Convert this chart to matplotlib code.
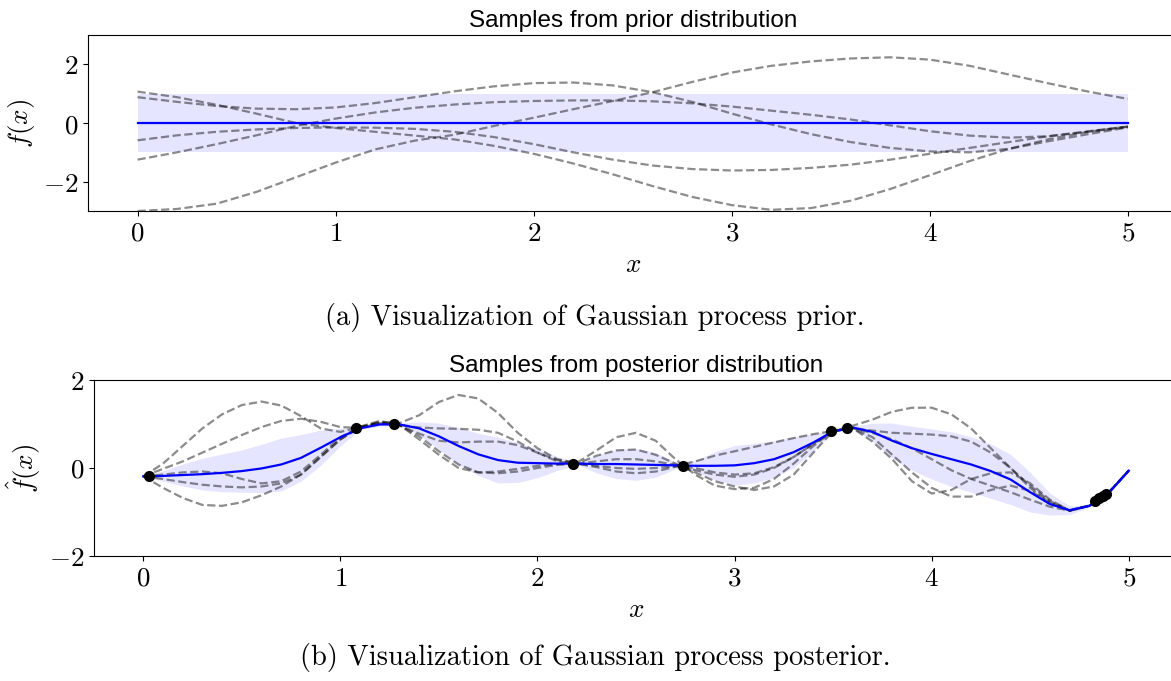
import numpy as np
import matplotlib
matplotlib.use("Agg")
import matplotlib.pyplot as plt

plt.rcParams['mathtext.fontset'] = 'cm'

# ---- prior panel data ----
prior_x = np.linspace(0, 5, 26)
prior_band_x = [0.0, 5.0]
prior_mean = [0.0, 0.0]
prior_std = [1.0, 1.0]
prior_samples = [
    [1.07, 0.88, 0.62, 0.32, 0.0, -0.17, -0.3, -0.43, -0.56, -0.78, -1.05, -1.38, -1.75,
     -2.15, -2.52, -2.8, -2.96, -2.9, -2.65, -2.25, -1.78, -1.3, -0.88, -0.55, -0.3, -0.12],
    [0.88, 0.72, 0.58, 0.49, 0.47, 0.53, 0.68, 0.88, 1.08, 1.25, 1.36, 1.38, 1.28,
     1.05, 0.72, 0.32, -0.05, -0.38, -0.65, -0.85, -0.97, -1.0, -0.88, -0.62, -0.38, -0.15],
    [-0.59, -0.42, -0.3, -0.22, -0.17, -0.15, -0.16, -0.2, -0.3, -0.48, -0.72, -1.0, -1.25,
     -1.45, -1.57, -1.62, -1.6, -1.53, -1.42, -1.25, -1.05, -0.85, -0.65, -0.45, -0.28, -0.12],
    [-1.25, -1.0, -0.72, -0.42, -0.1, 0.15, 0.36, 0.52, 0.63, 0.71, 0.75, 0.77, 0.77,
     0.74, 0.67, 0.56, 0.42, 0.28, 0.12, -0.08, -0.28, -0.43, -0.5, -0.45, -0.3, -0.13],
    [-3.0, -2.93, -2.75, -2.35, -1.85, -1.35, -0.9, -0.6, -0.4, -0.1, 0.18, 0.47, 0.75,
     1.05, 1.4, 1.72, 1.95, 2.1, 2.2, 2.24, 2.16, 1.95, 1.65, 1.35, 1.07, 0.82],
]

# ---- posterior panel data ----
post_x = np.linspace(0, 5, 51)
post_mean = [-0.19, -0.18, -0.16, -0.14, -0.11, -0.07, -0.01, 0.08, 0.23, 0.46,
             0.7, 0.9, 0.99, 0.99, 0.9, 0.72, 0.5, 0.31, 0.18, 0.12,
             0.11, 0.1, 0.1, 0.09, 0.09, 0.08, 0.07, 0.06, 0.05, 0.05,
             0.06, 0.11, 0.2, 0.36, 0.58, 0.83, 0.92, 0.82, 0.62, 0.45,
             0.32, 0.2, 0.08, -0.07, -0.26, -0.55, -0.82, -0.96, -0.86, -0.56, -0.06]
post_std = [0.0, 0.12, 0.25, 0.36, 0.43, 0.48, 0.55, 0.6, 0.53, 0.4,
            0.2, 0.02, 0.04, 0.03, 0.15, 0.3, 0.42, 0.48, 0.52, 0.45,
            0.33, 0.16, 0.02, 0.2, 0.33, 0.36, 0.28, 0.08, 0.12, 0.32,
            0.45, 0.45, 0.42, 0.35, 0.2, 0.02, 0.03, 0.2, 0.4, 0.5,
            0.57, 0.62, 0.63, 0.62, 0.57, 0.45, 0.25, 0.1, 0.03, 0.01, 0.02]
post_samples = [
    [-0.19, 0.1, 0.5, 0.9, 1.22, 1.43, 1.51, 1.42, 1.18, 0.9,
     0.82, 0.93, 1.05, 1.02, 1.2, 1.5, 1.66, 1.58, 1.25, 0.8,
     0.45, 0.2, 0.12, 0.4, 0.7, 0.8, 0.62, 0.2, -0.15, -0.4,
     -0.48, -0.45, -0.25, 0.1, 0.5, 0.84, 0.96, 1.1, 1.28, 1.37,
     1.37, 1.22, 0.9, 0.45, 0.0, -0.45, -0.8, -0.97, -0.86, -0.55, -0.06],
    [-0.19, -0.02, 0.15, 0.35, 0.55, 0.75, 0.93, 1.07, 1.12, 1.05,
     0.93, 0.91, 1.02, 0.98, 0.92, 0.9, 0.89, 0.87, 0.8, 0.6,
     0.35, 0.15, 0.1, 0.28, 0.4, 0.42, 0.3, 0.1, -0.1, -0.3,
     -0.42, -0.5, -0.42, -0.15, 0.35, 0.84, 0.9, 0.85, 0.8, 0.78,
     0.76, 0.72, 0.6, 0.35, 0.0, -0.4, -0.75, -0.96, -0.85, -0.55, -0.06],
    [-0.19, -0.15, -0.1, -0.08, -0.12, -0.25, -0.35, -0.3, -0.08, 0.3,
     0.7, 0.93, 1.02, 0.97, 0.78, 0.62, 0.58, 0.6, 0.6, 0.52,
     0.35, 0.18, 0.1, 0.15, 0.2, 0.2, 0.15, 0.07, -0.05, -0.15,
     -0.2, -0.15, 0.0, 0.25, 0.55, 0.85, 0.9, 0.6, 0.2, -0.3,
     -0.58, -0.5, -0.25, -0.12, -0.1, -0.35, -0.72, -0.97, -0.86, -0.55, -0.06],
    [-0.19, -0.45, -0.68, -0.84, -0.86, -0.78, -0.62, -0.42, -0.15, 0.25,
     0.65, 0.94, 1.07, 0.98, 0.65, 0.3, 0.0, -0.1, -0.08, -0.02,
     0.05, 0.09, 0.1, 0.05, 0.0, -0.02, 0.0, 0.04, 0.15, 0.28,
     0.38, 0.48, 0.58, 0.68, 0.77, 0.84, 0.9, 0.7, 0.3, -0.1,
     -0.45, -0.65, -0.65, -0.5, -0.4, -0.52, -0.78, -0.97, -0.86, -0.55, -0.06],
    [-0.19, -0.25, -0.32, -0.38, -0.42, -0.44, -0.42, -0.35, -0.15, 0.25,
     0.65, 0.92, 1.03, 0.97, 0.72, 0.38, 0.08, -0.1, -0.12, -0.08,
     0.0, 0.07, 0.1, 0.02, -0.08, -0.12, -0.08, 0.03, 0.0, -0.1,
     -0.15, -0.12, 0.02, 0.25, 0.55, 0.84, 0.9, 0.8, 0.65, 0.45,
     0.2, -0.05, -0.25, -0.4, -0.55, -0.72, -0.88, -0.97, -0.86, -0.55, -0.06],
]
obs_x = [0.03, 1.08, 1.27, 2.18, 2.74, 3.49, 3.57, 4.83, 4.85, 4.87, 4.885]
obs_y = [-0.19, 0.9, 0.99, 0.1, 0.05, 0.83, 0.91, -0.74, -0.69, -0.64, -0.59]

xticks = [0, 1, 2, 3, 4, 5]
prior_yticks = [-2, 0, 2]
post_yticks = [-2, 0, 2]

W, H = 1171, 681
fig = plt.figure(figsize=(W / 100, H / 100), dpi=100)

ax1 = fig.add_axes([88 / W, 1 - 211 / H, (1177.5 - 88) / W, 176 / H])
ax2 = fig.add_axes([94 / W, 1 - 556 / H, (1178 - 94) / W, 176 / H])


def style(ax, yticks, ylim, ylabel, title):
    ax.set_xlim(-0.25, 5.25)
    ax.set_ylim(*ylim)
    ax.set_xticks(xticks)
    ax.set_xticklabels([rf'${t}$' for t in xticks], fontsize=19.5)
    ax.set_yticks(yticks)
    ax.set_yticklabels([rf'${t}$' for t in yticks], fontsize=19.5)
    ax.set_xlabel(r'$x$', fontsize=19.5)
    ax.set_ylabel(ylabel, fontsize=19.5)
    ax.set_title(title, fontsize=17.5, family='Liberation Sans', pad=6)


# prior
m = np.array(prior_mean)
s = np.array(prior_std)
ax1.fill_between(prior_band_x, m + s, m - s, color='blue', alpha=0.1, lw=0)
for smp in prior_samples:
    ax1.plot(prior_x, smp, ls='--', color='black', alpha=0.45, lw=1.6)
ax1.plot(prior_band_x, prior_mean, color='blue', lw=1.6)
style(ax1, prior_yticks, (-3, 3), r'$f(x)$', 'Samples from prior distribution')

# posterior
m = np.array(post_mean)
s = np.array(post_std)
ax2.fill_between(post_x, m + s, m - s, color='blue', alpha=0.1, lw=0)
for smp in post_samples:
    ax2.plot(post_x, smp, ls='--', color='black', alpha=0.45, lw=1.6)
ax2.plot(post_x, post_mean, color='blue', lw=1.6)
ax2.plot(obs_x, obs_y, 'o', color='black', markersize=7)
style(ax2, post_yticks, (-2, 2), r'$\hat{f}(x)$', 'Samples from posterior distribution')

fig.text(595 / W, 1 - 317 / H, '(a) Visualization of Gaussian process prior.',
         family='cmr10', fontsize=20.5, ha='center', va='center')
fig.text(595 / W, 1 - 657 / H, '(b) Visualization of Gaussian process posterior.',
         family='cmr10', fontsize=20.5, ha='center', va='center')

fig.savefig('out.png', dpi=100)
